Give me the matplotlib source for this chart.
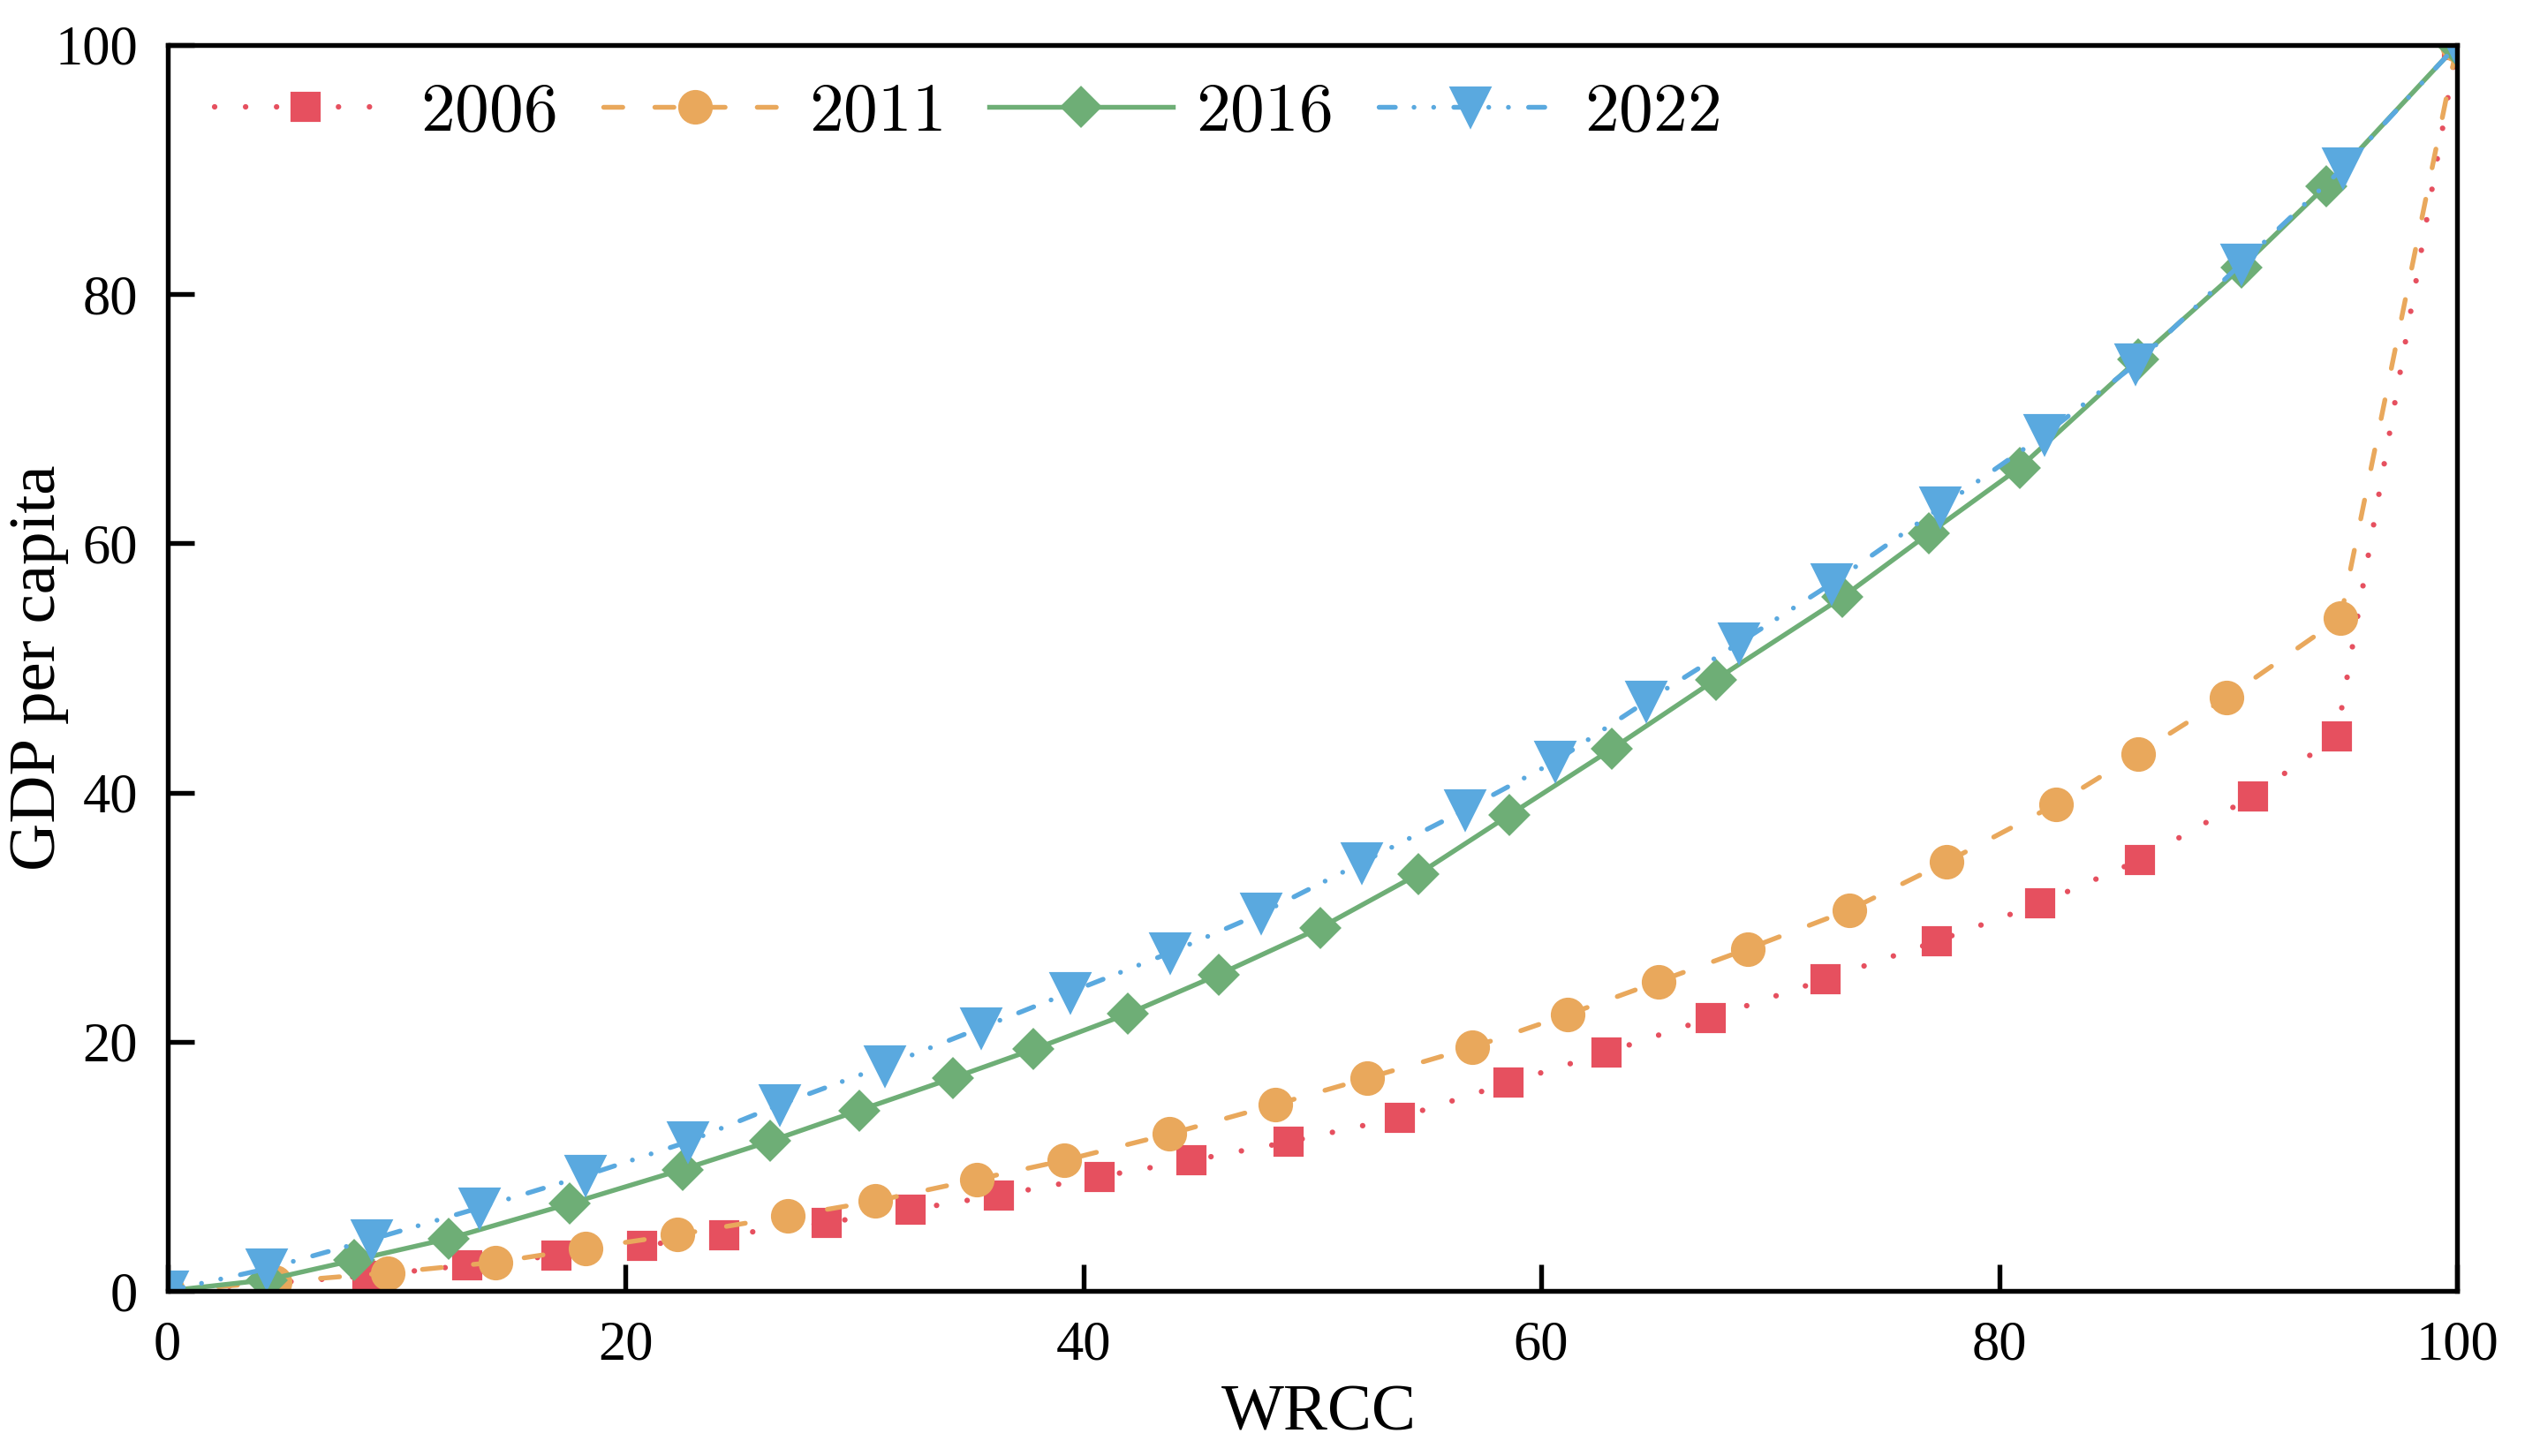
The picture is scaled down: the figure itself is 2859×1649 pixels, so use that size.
import matplotlib
matplotlib.use("AGG")
from matplotlib import pyplot as plt

# WRCC (x) vs GDP per capita (y) cumulative curves
x_2006 = [0, 8.72, 13.11, 16.98, 20.74, 24.33, 28.78, 32.45, 36.32, 40.71, 44.72, 48.97,
          53.84, 58.58, 62.85, 67.41, 72.41, 77.26, 81.80, 86.13, 91.07, 94.75, 100]
y_2006 = [0, 1.20, 2.06, 2.84, 3.64, 4.46, 5.47, 6.52, 7.68, 9.17, 10.47, 11.96,
          13.92, 16.70, 19.14, 21.92, 25.02, 28.06, 31.10, 34.58, 39.70, 44.54, 100]

x_2011 = [0, 4.67, 9.61, 14.32, 18.28, 22.29, 27.11, 30.93, 35.34, 39.16, 43.76, 48.40,
          52.41, 57.00, 61.16, 65.12, 69.03, 73.44, 77.69, 82.49, 86.06, 89.91, 94.91, 100]
y_2011 = [0, 0.70, 1.45, 2.30, 3.42, 4.52, 6.01, 7.21, 8.95, 10.47, 12.59, 14.96,
          17.08, 19.55, 22.18, 24.83, 27.46, 30.56, 34.42, 39.07, 43.12, 47.59, 53.99, 100]

x_2016 = [0, 4.33, 8.17, 12.30, 17.55, 22.49, 26.33, 30.21, 34.30, 37.83, 41.95, 45.93,
          50.35, 54.65, 58.62, 63.09, 67.62, 73.15, 76.94, 80.90, 86.08, 90.57, 94.27, 100]
y_2016 = [0, 0.88, 2.47, 4.20, 6.99, 9.74, 12.02, 14.49, 17.08, 19.39, 22.24, 25.40,
          29.14, 33.47, 38.21, 43.50, 49.07, 55.67, 60.81, 66.08, 74.78, 82.13, 88.69, 100]

x_2022 = [0, 4.33, 8.93, 13.63, 18.28, 22.75, 26.76, 31.33, 35.55, 39.45, 43.78, 47.77,
          52.16, 56.69, 60.60, 64.60, 68.64, 72.70, 77.45, 82.00, 85.96, 90.57, 95.03, 100]
y_2022 = [0, 1.77, 4.14, 6.67, 9.28, 11.98, 14.96, 18.07, 21.13, 23.98, 27.14, 30.30,
          34.37, 38.62, 42.49, 47.33, 52.00, 56.80, 62.90, 68.76, 74.38, 82.44, 90.14, 100]

ticks = [0, 20, 40, 60, 80, 100]

plt.rcParams["font.family"] = "serif"
plt.rcParams["font.serif"] = ["Liberation Serif", "DejaVu Serif"]
plt.rcParams["mathtext.fontset"] = "cm"

fig = plt.figure(figsize=(2859 / 300, 1649 / 300), dpi=300)
ax = fig.add_axes([0.0663, 0.1134, 0.9068, 0.8557])

lw = 1.3
ax.plot(x_2006, y_2006, color="#e6505f", lw=1.5, linestyle=(0, (0.01, 5.6)),
        dash_capstyle="round", marker="s", ms=7.2, label="$2006$")
ax.plot(x_2011, y_2011, color="#e9a85c", lw=lw, linestyle=(0, (4, 6.7)),
        dash_capstyle="round", marker="o", ms=8.4, label="$2011$")
ax.plot(x_2016, y_2016, color="#6eae76", lw=lw, linestyle="-",
        marker="D", ms=7.2, label="$2016$")
ax.plot(x_2022, y_2022, color="#5aa9df", lw=lw, linestyle=(0, (3.4, 3.9, 0.01, 4.1, 0.01, 4.2)),
        dash_capstyle="round", marker="v", ms=10, label="$2022$")

ax.set_xlim(0, 100)
ax.set_ylim(0, 100)
ax.set_xticks(ticks)
ax.set_yticks(ticks)
ax.tick_params(direction="in", length=7.2, width=1.3, labelsize=15, pad=8,
               top=False, right=False)
for s in ax.spines.values():
    s.set_linewidth(1.3)

ax.set_xlabel("WRCC", fontsize=18)
ax.set_ylabel("GDP per capita", fontsize=18)
ax.xaxis.set_label_coords(0.503, -0.075)
ax.yaxis.set_label_coords(-0.043, 0.5)

ax.legend(loc="upper left", ncol=4, frameon=False, fontsize=18.6,
          handlelength=2.68, handletextpad=0.33, columnspacing=0.69,
          bbox_to_anchor=(0.004, 1.0), borderaxespad=0.15)

plt.savefig("out.png", dpi=300)
